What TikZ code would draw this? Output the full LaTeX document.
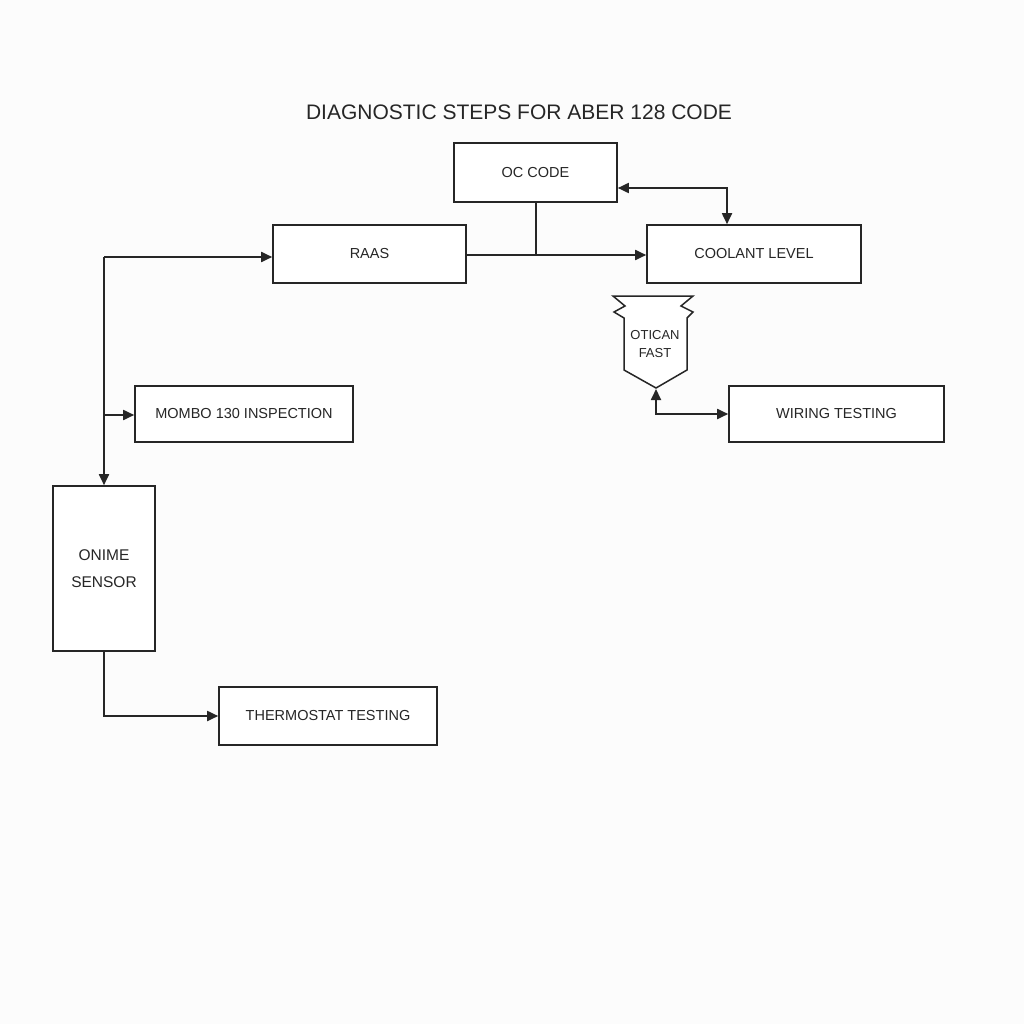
\documentclass[tikz,border=0pt]{standalone}
\usepackage{fontspec}
\setmainfont{Liberation Sans}
\usetikzlibrary{arrows.meta}
\definecolor{ink}{HTML}{262626}
\definecolor{bg}{HTML}{FCFCFC}
\begin{document}
\begin{tikzpicture}[x=1pt,y=-1pt,
  box/.style={draw=ink, line width=1.6pt, fill=white, text=ink, inner sep=0pt, font=\fontsize{14.5}{17}\selectfont},
  conn/.style={draw=ink, line width=1.8pt},
  tip/.style={-{Triangle[length=11pt,width=10pt]}},
  btip/.style={{Triangle[length=11pt,width=10pt]}-{Triangle[length=11pt,width=10pt]}}]
\fill[bg] (0,0) rectangle (1024,1024);
\useasboundingbox (0,0) rectangle (1024,1024);
\node[text=ink, font=\fontsize{21}{25}\selectfont] (title) at (519,112) {DIAGNOSTIC STEPS FOR ABER 128 CODE};
\node[box, minimum width=163pt, minimum height=59pt] (oc) at (535.5,172.5) {OC CODE};
\node[box, minimum width=193pt, minimum height=58pt] (raas) at (369.5,254) {RAAS};
\node[box, minimum width=214pt, minimum height=58pt] (cool) at (754,254) {COOLANT LEVEL};
\node[box, minimum width=218pt, minimum height=56pt] (mombo) at (244,414) {MOMBO 130 INSPECTION};
\node[box, minimum width=215pt, minimum height=56pt] (wiring) at (836.5,414) {WIRING TESTING};
\node[box, minimum width=102pt, minimum height=165pt, align=center, font=\fontsize{15.5}{27}\selectfont] (onime) at (104,568.5) {ONIME\\SENSOR};
\node[box, minimum width=218pt, minimum height=58pt] (thermo) at (328,716) {THERMOSTAT TESTING};
% shield shape
\draw[ink, line width=1.5pt, fill=white, line join=miter]
  (613,296) -- (693,296) -- (681,306) -- (693,312) -- (687,318) -- (687,370)
  -- (656,388) -- (624,370) -- (624,318) -- (614,312) -- (625,306) -- cycle;
\coordinate (shb) at (656,389);
\node[text=ink, align=center, font=\fontsize{13}{18}\selectfont] (otican) at (655,344) {OTICAN\\FAST};
% connectors
\coordinate (jn) at (536.3,255);
\draw[conn] (jn |- oc.south) -- (jn);
\draw[conn, tip] (raas.east |- jn) -- (cool.west |- jn);
\draw[conn, btip] (oc.east |- 0,188) -| (727,0 |- cool.north);
\coordinate (trunk) at (104,257);
\draw[conn, tip] (trunk) -- (raas.west |- trunk);
\draw[conn, tip] (trunk) -- (onime.north);
\draw[conn, tip] (104,415) -- (mombo.west |- 0,415);
\draw[conn, tip] (onime.south) |- (thermo.west);
\draw[conn, btip] (shb) |- (wiring.west);
\end{tikzpicture}
\end{document}
